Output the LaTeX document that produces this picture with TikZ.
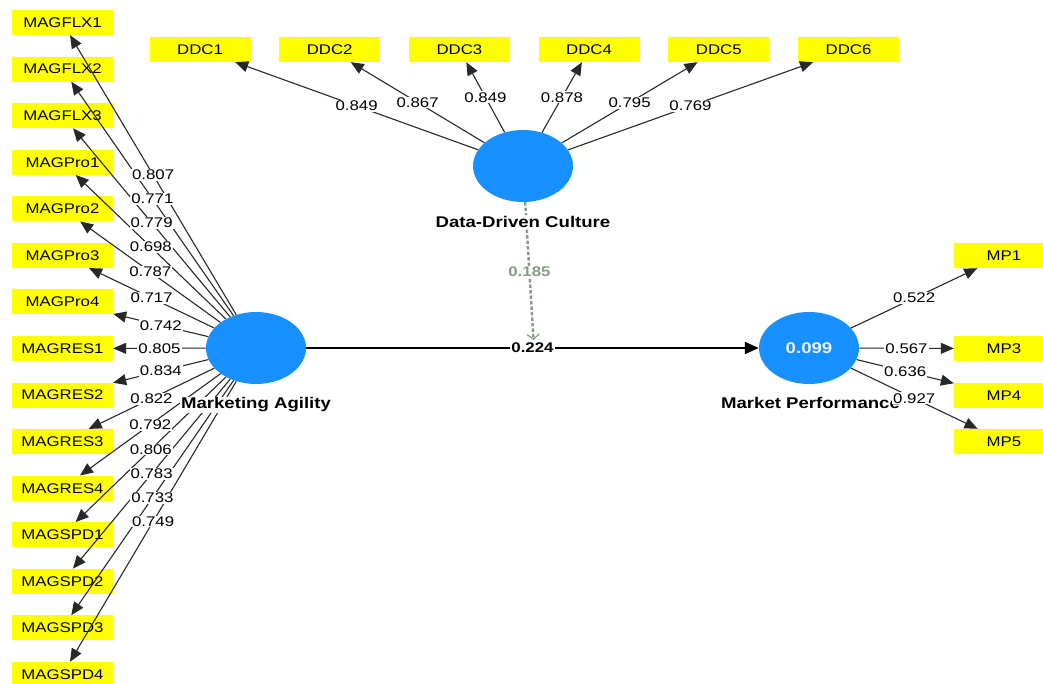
\documentclass[tikz,border=0pt]{standalone}
\usepackage{fontspec}
\setmainfont{Liberation Sans}[FakeStretch=1.2]
\usetikzlibrary{arrows.meta,shapes.geometric}
\definecolor{ybox}{RGB}{255,255,0}
\definecolor{cblue}{RGB}{24,144,255}
\definecolor{edgegray}{RGB}{40,40,40}
\definecolor{modgray}{RGB}{135,155,135}
\begin{document}
\begin{tikzpicture}[x=1pt,y=-1pt,
  ind/.style={fill=ybox, minimum width=101pt, minimum height=25pt, inner sep=0pt, font=\fontsize{14}{16}\selectfont},
  lv/.style={ellipse, fill=cblue, minimum width=100pt, minimum height=72pt, inner sep=0pt},
  lvname/.style={fill=white, inner sep=1pt, font=\fontsize{15.5}{17}\selectfont\bfseries},
  load/.style={draw=edgegray, line width=1.1pt, -{Triangle[length=13pt,width=11pt]}},
  mainpath/.style={draw=black, line width=2pt, -{Triangle[length=14pt,width=12pt]}},
  modpath/.style={draw=modgray, line width=2.4pt, dash pattern=on 3.5pt off 2pt, -{Straight Barb[length=5pt,width=12pt,line width=1.2pt]}, shorten >=8pt},
  lbl/.style={fill=white, inner sep=1pt, font=\fontsize{14}{16}\selectfont, text=black}
]
\useasboundingbox (0,0) rectangle (1043,684);

% latent variables
\node[lv] (MA) at (256,348) {};
\node[lv] (DDC) at (523,166) {};
\node[lv, text={rgb,255:red,235;green,242;blue,255}, font=\fontsize{15.5}{17}\selectfont\bfseries] (MP) at (809,348) {0.099};

% Marketing Agility indicators
\foreach \n [count=\i from 0] in {MAGFLX1,MAGFLX2,MAGFLX3,MAGPro1,MAGPro2,MAGPro3,MAGPro4,MAGRES1,MAGRES2,MAGRES3,MAGRES4,MAGSPD1,MAGSPD2,MAGSPD3,MAGSPD4}
  \node[ind] (\n) at (62.5,{22.5+46.57*\i}) {\n};

% Data-Driven Culture indicators
\foreach \n [count=\i from 0] in {DDC1,DDC2,DDC3,DDC4,DDC5,DDC6}
  \node[ind] (\n) at ({200+129.7*\i},49.5) {\n};

% Market Performance indicators
\node[ind, minimum width=100pt] (MP1) at (1004,255.5) {MP1};
\node[ind, minimum width=100pt] (MP3) at (1004,348.5) {MP3};
\node[ind, minimum width=100pt] (MP4) at (1004,395.5) {MP4};
\node[ind, minimum width=100pt] (MP5) at (1004,441.5) {MP5};

% loading edges
\foreach \n in {MAGFLX1,MAGFLX2,MAGFLX3,MAGPro1,MAGPro2,MAGPro3,MAGPro4,MAGRES1,MAGRES2,MAGRES3,MAGRES4,MAGSPD1,MAGSPD2,MAGSPD3,MAGSPD4}
  \draw[load] (MA) -- (\n);
\foreach \n in {DDC1,DDC2,DDC3,DDC4,DDC5,DDC6}
  \draw[load] (DDC) -- (\n);
\foreach \n in {MP1,MP3,MP4,MP5}
  \draw[load] (MP) -- (\n);

% structural path and moderation
\draw[mainpath] (MA) -- (MP);
\coordinate (modpt) at (534,348);
\draw[modpath] (DDC) -- (modpt);

% construct names
\node[lvname] (MAn) at (256,405) {Marketing Agility};
\node[lvname] (DDCn) at (523,222) {Data-Driven Culture};
\node[lvname] (MPn) at (810.5,403) {Market Performance};

% labels
\foreach \n/\v in {MAGFLX1/0.807,MAGFLX2/0.771,MAGFLX3/0.779,MAGPro1/0.698,MAGPro2/0.787,MAGPro3/0.717,MAGPro4/0.742,MAGRES1/0.805,MAGRES2/0.834,MAGRES3/0.822,MAGRES4/0.792,MAGSPD1/0.806,MAGSPD2/0.783,MAGSPD3/0.733,MAGSPD4/0.749}
  \path (MA) -- node[lbl] {\v} (\n);
\foreach \n/\v in {DDC1/0.849,DDC2/0.867,DDC3/0.849,DDC4/0.878,DDC5/0.795,DDC6/0.769}
  \path (DDC) -- node[lbl] {\v} (\n);
\foreach \n/\v in {MP1/0.522,MP3/0.567,MP4/0.636,MP5/0.927}
  \path (MP) -- node[lbl] {\v} (\n);
\path (MA) -- node[lbl, font=\fontsize{14}{16}\selectfont\bfseries] {0.224} (MP);
\path (DDC) -- node[lbl, pos=0.48, text=modgray, font=\fontsize{14}{16}\selectfont\bfseries] {0.185} (modpt);
\end{tikzpicture}
\end{document}
